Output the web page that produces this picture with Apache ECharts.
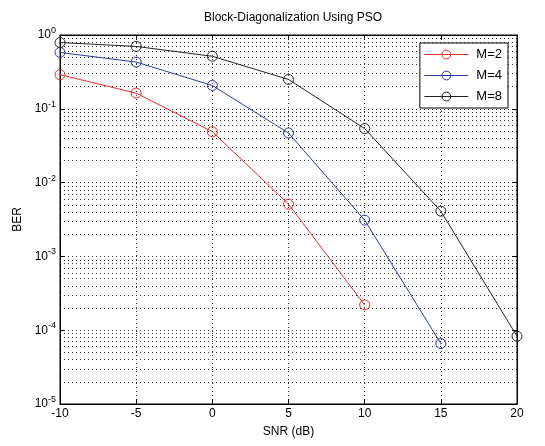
<!DOCTYPE html>
<html>
<head>
<meta charset="utf-8">
<script src="https://cdn.jsdelivr.net/npm/echarts@6/dist/echarts.min.js"></script>
<style>
html, body { margin: 0; padding: 0; background: #fff; }
#chart { width: 545px; height: 446px; }
</style>
</head>
<body>
<div id="chart"></div>
<script>
// values
var snrDb = [-10, -5, 0, 5, 10, 15, 20];
var berM2 = [0.29, 0.163, 0.049, 0.0051, 0.00022];
var berM4 = [0.58, 0.43, 0.207, 0.047, 0.0031, 0.000066];
var berM8 = [0.79, 0.70, 0.515, 0.25, 0.054, 0.0041, 0.000083];
var seriesNames = ['M=2', 'M=4', 'M=8'];
var seriesColors = ['#e0302c', '#2b3a9c', '#222222'];

var FONT = '"Liberation Sans", Arial, sans-serif';
var DOTS = [1, 3];

function toPairs(vals) {
    var out = [];
    for (var i = 0; i < vals.length; i++) {
        out.push([snrDb[i], vals[i]]);
    }
    return out;
}

// minor log grid: 2..9 x 10^e for every decade, drawn across the x range
function minorLines() {
    var lines = [];
    var x0 = snrDb[0], x1 = snrDb[snrDb.length - 1];
    for (var e = -5; e <= -1; e++) {
        for (var k = 2; k <= 9; k++) {
            var v = k * Math.pow(10, e);
            lines.push({ coords: [[x0, v], [x1, v]] });
        }
    }
    return lines;
}

function expLabel(v) {
    var e = Math.round(Math.log10(v));
    return '{b|10}{s|' + e + '}';
}

var gridLine = { show: true, lineStyle: { color: '#333', width: 1, type: DOTS } };

var series = [{
    name: 'minorGrid',
    type: 'lines',
    coordinateSystem: 'cartesian2d',
    silent: true,
    animation: false,
    z: 1,
    lineStyle: { color: '#333', width: 1, type: DOTS, opacity: 1 },
    data: minorLines()
}];

var berAll = [berM2, berM4, berM8];
for (var i = 0; i < berAll.length; i++) {
    series.push({
        name: seriesNames[i],
        type: 'line',
        data: toPairs(berAll[i]),
        symbol: 'circle',
        symbolSize: 10,
        color: seriesColors[i],
        lineStyle: { width: 1, color: seriesColors[i] },
        // hollow marker, line shows through like matlab 'o'
        itemStyle: { color: 'rgba(0,0,0,0)', borderColor: seriesColors[i], borderWidth: 1 },
        animation: false,
        z: 5
    });
}

var chart = echarts.init(document.getElementById('chart'), null, { renderer: 'canvas' });
chart.setOption({
    backgroundColor: '#fff',
    textStyle: { fontFamily: FONT },
    title: {
        text: 'Block-Diagonalization Using PSO',
        left: 288,
        textAlign: 'center',
        top: 7,
        textStyle: { fontFamily: FONT, fontSize: 12, fontWeight: 'normal', color: '#000' }
    },
    legend: {
        orient: 'vertical',
        right: 37,
        top: 43,
        data: seriesNames,
        backgroundColor: '#fff',
        borderColor: '#000',
        borderWidth: 1,
        padding: [5, 6, 5, 4],
        itemGap: 8,
        itemWidth: 44,
        itemHeight: 11,
        lineStyle: { width: 1 },
        itemStyle: { borderWidth: 1 },
        textStyle: { fontFamily: FONT, fontSize: 13, color: '#000', padding: [0, 0, 0, 3] }
    },
    grid: {
        left: 60,
        right: 28,
        top: 35,
        bottom: 42,
        show: true,
        borderColor: '#000',
        borderWidth: 1,
        backgroundColor: '#fff'
    },
    xAxis: [{
        type: 'value',
        min: -10,
        max: 20,
        interval: 5,
        name: 'SNR (dB)',
        nameLocation: 'middle',
        nameGap: 22,
        nameTextStyle: { fontFamily: FONT, fontSize: 12, color: '#000' },
        axisLine: { show: true, onZero: false, lineStyle: { color: '#000' } },
        axisTick: { show: true, inside: true, length: 5, lineStyle: { color: '#000' } },
        axisLabel: { fontFamily: FONT, fontSize: 12, color: '#000', margin: 4 },
        splitLine: gridLine
    }, {
        type: 'value',
        position: 'top',
        min: -10,
        max: 20,
        interval: 5,
        axisLine: { show: true, onZero: false, lineStyle: { color: '#000' } },
        axisTick: { show: true, inside: true, length: 5, lineStyle: { color: '#000' } },
        axisLabel: { show: false },
        splitLine: { show: false }
    }],
    yAxis: [{
        type: 'log',
        logBase: 10,
        min: 1e-5,
        max: 1,
        name: 'BER',
        nameLocation: 'middle',
        nameGap: 36,
        nameRotate: 90,
        nameTextStyle: { fontFamily: FONT, fontSize: 12, color: '#000' },
        axisLine: { show: true, onZero: false, lineStyle: { color: '#000' } },
        axisTick: { show: true, inside: true, length: 5, lineStyle: { color: '#000' } },
        axisLabel: {
            formatter: expLabel,
            margin: 4,
            rich: {
                b: { fontFamily: FONT, fontSize: 12, color: '#000' },
                s: { fontFamily: FONT, fontSize: 9, color: '#000', padding: [0, 0, 9, 0] }
            }
        },
        splitLine: gridLine
    }, {
        type: 'log',
        logBase: 10,
        min: 1e-5,
        max: 1,
        position: 'right',
        axisLine: { show: true, onZero: false, lineStyle: { color: '#000' } },
        axisTick: { show: true, inside: true, length: 5, lineStyle: { color: '#000' } },
        axisLabel: { show: false },
        splitLine: { show: false }
    }],
    series: series
});
</script>
</body>
</html>
